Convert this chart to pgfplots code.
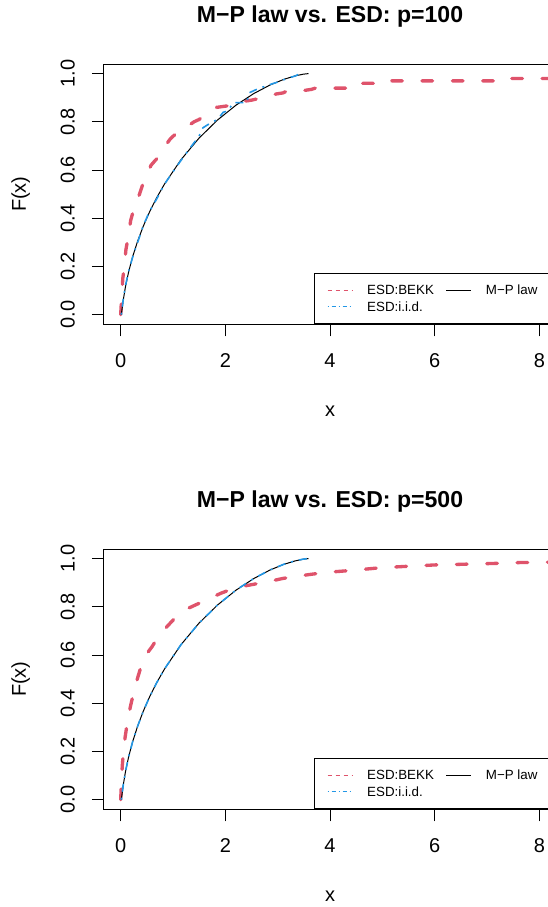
\documentclass[border=0pt]{standalone}
\usepackage{pgfplots}
\pgfplotsset{compat=1.18}
\usepackage{fontspec}
\setmainfont{Liberation Sans}
\definecolor{bekk}{HTML}{DF536B}
\definecolor{iid}{HTML}{2297E6}

\pgfplotstableread{
x F
0.01115 0
0.02008 0.0131
0.04680 0.0577
0.09104 0.1157
0.15235 0.1782
0.23014 0.2418
0.32360 0.3050
0.43179 0.3670
0.55369 0.4272
0.68803 0.4852
0.83348 0.5407
1.15179 0.6429
1.49595 0.7323
1.85223 0.8080
2.20644 0.8697
2.54443 0.9176
2.85274 0.9528
3.11909 0.9765
3.33285 0.9907
3.48550 0.9977
3.57095 0.9998
3.58885 1.0
}\mplaw

\pgfplotstableread{
x F
0.000 0.000
0.010 0.040
0.020 0.080
0.040 0.150
0.070 0.200
0.100 0.270
0.150 0.330
0.190 0.390
0.240 0.430
0.300 0.470
0.360 0.500
0.420 0.540
0.500 0.580
0.580 0.620
0.660 0.640
0.750 0.660
0.850 0.700
0.950 0.730
1.050 0.750
1.150 0.765
1.270 0.780
1.400 0.800
1.500 0.810
1.620 0.830
1.750 0.850
1.830 0.860
2.030 0.866
2.200 0.870
2.310 0.884
2.500 0.890
2.700 0.900
2.790 0.905
2.980 0.916
3.100 0.920
3.200 0.930
3.500 0.930
3.650 0.935
3.720 0.940
4.400 0.940
4.430 0.950
4.550 0.950
4.580 0.960
5.150 0.960
5.180 0.970
7.150 0.970
7.180 0.980
8.600 0.980
}\bekkA

\pgfplotstableread{
x F
0.011 0.000
0.020 0.010
0.047 0.060
0.091 0.120
0.152 0.180
0.230 0.240
0.324 0.300
0.432 0.370
0.554 0.430
0.688 0.480
0.833 0.540
0.990 0.590
1.152 0.640
1.320 0.690
1.496 0.740
1.570 0.775
1.640 0.785
1.760 0.800
1.852 0.810
1.960 0.840
2.050 0.845
2.150 0.880
2.410 0.880
2.450 0.920
2.600 0.935
2.853 0.955
3.000 0.965
3.119 0.975
3.250 0.985
3.333 0.990
3.420 1.000
}\iidA

\pgfplotstableread{
x F
0.000 0.000
0.010 0.050
0.030 0.140
0.050 0.190
0.085 0.260
0.120 0.310
0.165 0.365
0.200 0.400
0.265 0.460
0.330 0.510
0.400 0.560
0.480 0.600
0.600 0.635
0.700 0.670
0.850 0.710
1.000 0.745
1.150 0.773
1.300 0.795
1.520 0.817
1.700 0.835
1.910 0.856
2.100 0.872
2.350 0.886
2.600 0.896
2.850 0.906
3.100 0.918
3.350 0.926
3.600 0.934
3.850 0.941
4.100 0.946
4.400 0.951
4.650 0.956
4.900 0.961
5.200 0.965
5.450 0.968
5.750 0.971
6.000 0.974
6.300 0.975
6.550 0.977
6.800 0.978
7.100 0.980
7.400 0.982
7.650 0.984
8.000 0.985
8.400 0.986
8.600 0.987
}\bekkB

\pgfplotstableread{
x F
0.011 0.000
0.020 0.012
0.047 0.058
0.091 0.116
0.152 0.178
0.230 0.242
0.324 0.305
0.432 0.367
0.554 0.427
0.688 0.485
0.833 0.541
1.152 0.643
1.496 0.732
1.852 0.808
2.206 0.870
2.544 0.918
2.853 0.953
3.119 0.977
3.333 0.991
3.486 0.998
3.560 1.000
}\iidB

\pgfplotsset{
  rpanel/.style={
    scale only axis, width=339.1pt, height=195.2pt,
    xmin=-0.32, xmax=8.32, ymin=-0.04, ymax=1.04,
    xtick={0,2,4,6,8}, ytick={0,0.2,0.4,0.6,0.8,1},
    xtick pos=bottom, ytick pos=left,
    tick align=outside, major tick length=9pt,
    every tick/.style={black, line width=0.75pt},
    axis line style={black, line width=0.75pt},
    /pgf/number format/assume math mode=true,
    yticklabel style={/pgf/number format/.cd, fixed, fixed zerofill, precision=1, /tikz/.cd},
    tick label style={font=\fontsize{15}{17}\selectfont},
    xticklabel style={anchor=base, yshift=-23.75pt},
    yticklabel style={xshift=-13pt, rotate=90, anchor=base},
    xlabel={x}, ylabel={F(x)},
    label style={font=\fontsize{15}{17}\selectfont},
    xlabel style={at={([yshift=-69.3pt]rel axis cs:0.5,0)}, anchor=base},
    ylabel style={at={([xshift=-58.5pt]rel axis cs:0,0.5)}, anchor=base},
    title style={at={([yshift=25pt]rel axis cs:0.5,1)}, anchor=base, font=\fontsize{17.3}{20}\selectfont\bfseries},
    legend columns=2, legend cell align=left,
    legend style={at={(axis cs:3.70,-0.04)}, anchor=south west, draw=black, line width=0.75pt, fill=white,
      inner xsep=9.3pt, inner ysep=6.4pt, row sep=0pt, font=\fontsize{10}{12}\selectfont,
      nodes={inner sep=0pt, text height=9.5pt, text depth=3pt},
      /tikz/every odd column/.style={column sep=10.5pt},
      /tikz/every even column/.style={column sep=9pt}},
  },
  bekkline/.style={color=bekk, line width=2.5pt, line cap=round, line join=round, dash pattern=on 8pt off 14.75pt, forget plot},
  mpline/.style={color=black, line width=0.75pt, forget plot},
  iidline/.style={color=iid, line width=1.2pt, dash pattern=on 1.5pt off 4.5pt on 6pt off 4.5pt, forget plot},
}

\begin{document}
\begin{tikzpicture}
\useasboundingbox (0,0) rectangle (410.25pt,680.25pt);

\begin{scope}
\begin{axis}[rpanel, at={(77.96pt,437.03pt)}, anchor=south west,
  title={M−P law vs. ESD: p=100}]
\addplot[bekkline] table[x=x,y=F] {\bekkA};
\addplot[mpline] table[x=x,y=F] {\mplaw};
\addplot[iidline] table[x=x,y=F] {\iidA};
\addlegendimage{legend image code/.code={\draw[draw=bekk, line width=0.75pt, dash pattern=on 3pt off 3pt] (0pt,0pt) -- (18.75pt,0pt);}}
\addlegendentry{ESD:BEKK\hspace{9pt}}
\addlegendimage{legend image code/.code={\draw[draw=black, line width=0.75pt] (0pt,0pt) -- (18.75pt,0pt);}}
\addlegendentry{M−P law\hspace{24pt}}
\addlegendimage{legend image code/.code={\draw[draw=iid, line width=0.75pt, dash pattern=on 0.75pt off 2.25pt on 3pt off 2.25pt] (0pt,0pt) -- (18.75pt,0pt);}}
\addlegendentry{ESD:i.i.d.}
\end{axis}
\end{scope}

\begin{scope}
\begin{axis}[rpanel, at={(77.96pt,73.28pt)}, anchor=south west,
  title={M−P law vs. ESD: p=500}]
\addplot[bekkline] table[x=x,y=F] {\bekkB};
\addplot[mpline] table[x=x,y=F] {\mplaw};
\addplot[iidline] table[x=x,y=F] {\iidB};
\addlegendimage{legend image code/.code={\draw[draw=bekk, line width=0.75pt, dash pattern=on 3pt off 3pt] (0pt,0pt) -- (18.75pt,0pt);}}
\addlegendentry{ESD:BEKK\hspace{9pt}}
\addlegendimage{legend image code/.code={\draw[draw=black, line width=0.75pt] (0pt,0pt) -- (18.75pt,0pt);}}
\addlegendentry{M−P law\hspace{24pt}}
\addlegendimage{legend image code/.code={\draw[draw=iid, line width=0.75pt, dash pattern=on 0.75pt off 2.25pt on 3pt off 2.25pt] (0pt,0pt) -- (18.75pt,0pt);}}
\addlegendentry{ESD:i.i.d.}
\end{axis}
\end{scope}
\end{tikzpicture}
\end{document}
